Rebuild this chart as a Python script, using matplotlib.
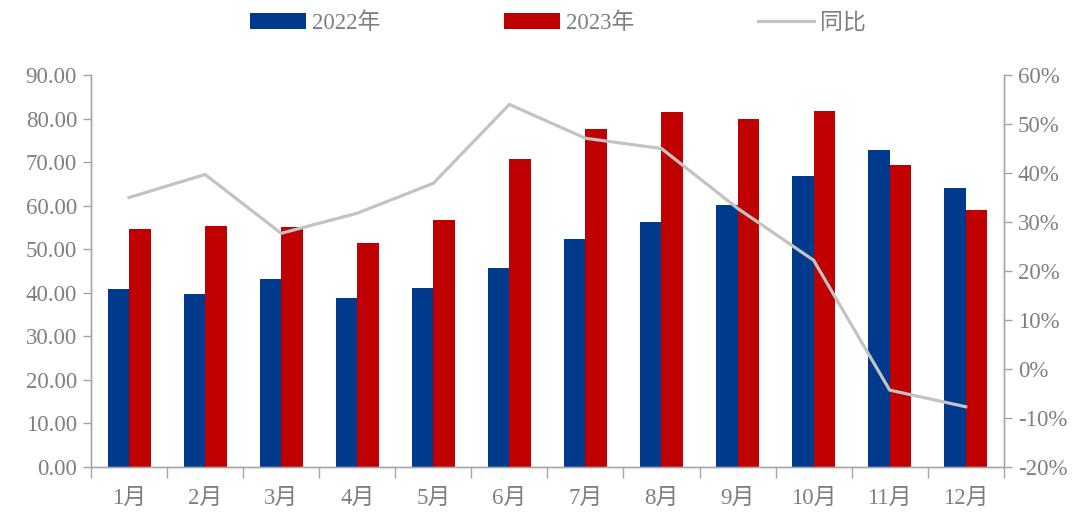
import numpy as np
import matplotlib.pyplot as plt
from matplotlib.ticker import FormatStrFormatter, PercentFormatter, FixedLocator

plt.rcParams['font.family'] = ['Liberation Serif', 'Noto Sans CJK SC']
plt.rcParams['axes.unicode_minus'] = False

months = ['1月', '2月', '3月', '4月', '5月', '6月', '7月', '8月', '9月', '10月', '11月', '12月']
sales_2022 = [40.8, 39.8, 43.2, 38.8, 41.2, 45.6, 52.4, 56.2, 60.1, 66.8, 72.7, 64.0]
sales_2023 = [54.7, 55.3, 55.2, 51.4, 56.7, 70.7, 77.5, 81.4, 79.9, 81.8, 69.3, 59.0]
yoy = [35.0, 39.7, 27.7, 31.8, 37.9, 54.0, 47.1, 45.0, 32.8, 22.2, -4.3, -7.7]

BLUE = '#003a8c'
RED = '#c00000'
GREY_LINE = '#c3c3c3'
AXIS = '#a6a6a6'
TEXT = '#7f7f7f'
FS = 16.5

fig = plt.figure(figsize=(10.77, 5.14), dpi=100)
ax = fig.add_axes([0.0845, 0.0914, 0.8475, 0.7626])
ax2 = ax.twinx()

x = np.arange(len(months))
w = 0.283
b1 = ax.bar(x - w / 2, sales_2022, w, color=BLUE, label='2022年', zorder=2)
b2 = ax.bar(x + w / 2, sales_2023, w, color=RED, label='2023年', zorder=2)
ln, = ax2.plot(x, yoy, color=GREY_LINE, lw=2.3, label='同比', zorder=3)

ax.set_xlim(-0.5, len(months) - 0.5)
ax.set_ylim(0, 90)
ax.set_yticks(np.arange(0, 91, 10))
ax.yaxis.set_major_formatter(FormatStrFormatter('%.2f'))
ax2.set_ylim(-20, 60)
ax2.set_yticks(np.arange(-20, 61, 10))
ax2.yaxis.set_major_formatter(PercentFormatter(decimals=0))

# month labels centred, tick marks on the category boundaries
ax.set_xticks(x)
ax.set_xticklabels(months)
ax.xaxis.set_minor_locator(FixedLocator(np.arange(-0.5, len(months), 1.0)))
ax.tick_params(axis='x', which='major', length=0, pad=15, labelsize=FS, labelcolor=TEXT)
ax.tick_params(axis='x', which='minor', length=8, color=AXIS, width=1)
ax.tick_params(axis='y', length=6, color=AXIS, width=1, pad=4, labelsize=FS, labelcolor=TEXT)
ax2.tick_params(axis='y', length=6, color=AXIS, width=1, pad=4, labelsize=FS, labelcolor=TEXT)

for a in (ax, ax2):
    a.spines['top'].set_visible(False)
    for s in ('left', 'right', 'bottom'):
        a.spines[s].set_color(AXIS)
        a.spines[s].set_linewidth(1)

fig.legend(handles=[b1, b2, ln], loc='center', bbox_to_anchor=(0.518, 0.955), ncol=3,
           frameon=False, fontsize=FS, labelcolor=TEXT, handlelength=2.45, handleheight=0.65,
           columnspacing=5.4, handletextpad=0.25)

fig.savefig('out.png', dpi=100)
